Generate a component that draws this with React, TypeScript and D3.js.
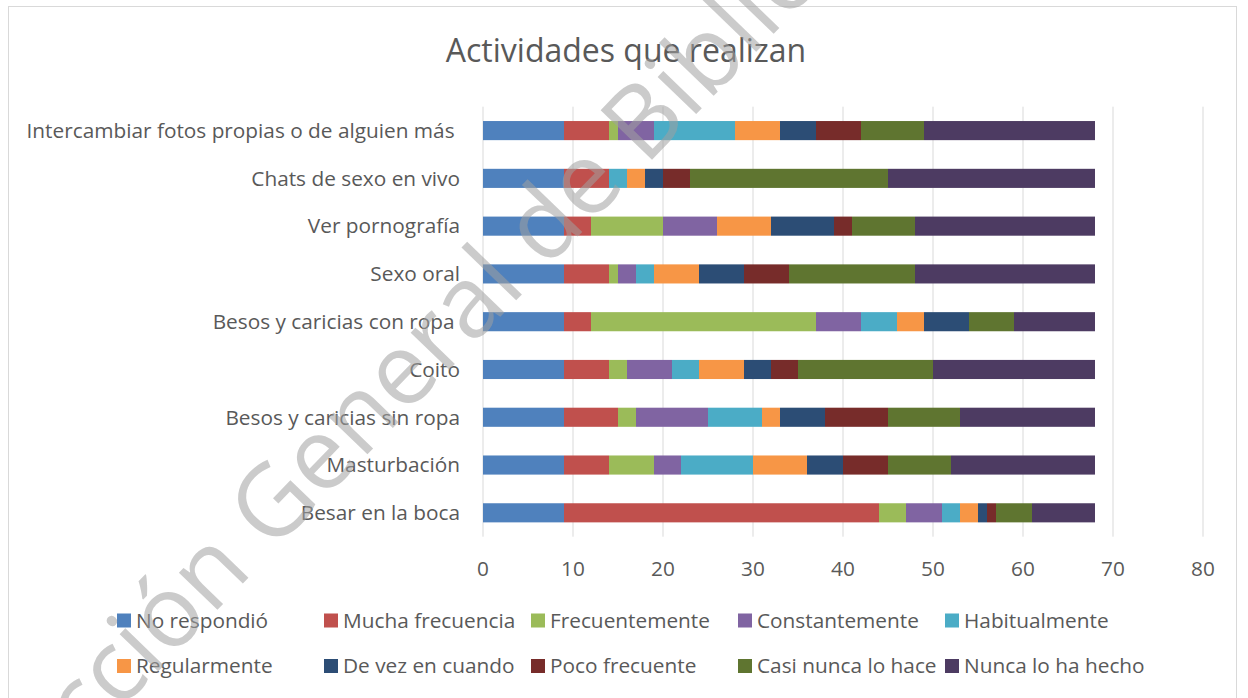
import React from 'react'
import * as d3 from 'd3'

const categories = [
  'Intercambiar fotos propias o de alguien más ',
  'Chats de sexo en vivo',
  'Ver pornografía',
  'Sexo oral',
  'Besos y caricias con ropa ',
  'Coito',
  'Besos y caricias sin ropa',
  'Masturbación',
  'Besar en la boca',
]

const seriesNames = [
  'No respondió',
  'Mucha frecuencia',
  'Frecuentemente',
  'Constantemente',
  'Habitualmente',
  'Regularmente',
  'De vez en cuando',
  'Poco frecuente',
  'Casi nunca lo hace',
  'Nunca lo ha hecho',
]

// one array per answer, same order as categories
const noRespondio = [9, 9, 9, 9, 9, 9, 9, 9, 9]
const muchaFrecuencia = [5, 5, 3, 5, 3, 5, 6, 5, 35]
const frecuentemente = [1, 0, 8, 1, 25, 2, 2, 5, 3]
const constantemente = [4, 0, 6, 2, 5, 5, 8, 3, 4]
const habitualmente = [9, 2, 0, 2, 4, 3, 6, 8, 2]
const regularmente = [5, 2, 6, 5, 3, 5, 2, 6, 2]
const deVezEnCuando = [4, 2, 7, 5, 5, 3, 5, 4, 1]
const pocoFrecuente = [5, 3, 2, 5, 0, 3, 7, 5, 1]
const casiNunca = [7, 22, 7, 14, 5, 15, 8, 7, 4]
const nuncaLoHaHecho = [19, 23, 20, 20, 9, 18, 15, 16, 7]

const seriesValues = [
  noRespondio, muchaFrecuencia, frecuentemente, constantemente, habitualmente,
  regularmente, deVezEnCuando, pocoFrecuente, casiNunca, nuncaLoHaHecho,
]

const colors = [
  '#4F81BD', '#C0504D', '#9BBB59', '#8064A2', '#4BACC6',
  '#F79646', '#2C4D75', '#772C2A', '#5F7530', '#4D3B62',
]

const W = 1248
const H = 698
const font = '"Open Sans", Lato, sans-serif'
const textColor = '#595959'

export default function App() {
  const rows = categories.map((c, i) => {
    const row: any = { cat: c }
    seriesNames.forEach((s, j) => { row[s] = seriesValues[j][i] })
    return row
  })
  const stacked = d3.stack().keys(seriesNames)(rows)

  const x = d3.scaleLinear().domain([0, 80]).range([483, 1203])
  const y = d3.scaleBand().domain(categories).range([106.7, 536.7]).paddingInner(0.6).paddingOuter(0.3)
  const color = d3.scaleOrdinal<string, string>().domain(seriesNames).range(colors)

  const legendX = (i: number) => 117 + (i % 5) * 207
  const legendY = (i: number) => (i < 5 ? 620.5 : 666)

  return (
    <svg width={W} height={H} style={{ position: 'absolute', left: 0, top: 0, display: 'block', background: '#fff' }}>
      <rect x={8.5} y={6.5} width={1228} height={720} fill="#fff" stroke="#d9d9d9" />
      <text x={626} y={62} textAnchor="middle" fontFamily={font} fontSize={32} fill={textColor}>
        Actividades que realizan
      </text>

      {x.ticks(8).map(t => (
        <g key={t}>
          <line x1={x(t)} x2={x(t)} y1={106.7} y2={536.7} stroke="#d9d9d9" strokeWidth={1} />
          <text x={x(t)} y={576} textAnchor="middle" fontFamily={font} fontSize={20.8} fill={textColor}>{t}</text>
        </g>
      ))}

      {stacked.map(layer => (
        <g key={layer.key} fill={color(layer.key)}>
          {layer.map((d, i) => (
            <rect key={i} x={x(d[0])} y={y(categories[i])} width={x(d[1]) - x(d[0])} height={y.bandwidth()} />
          ))}
        </g>
      ))}

      {categories.map(c => (
        <text key={c} x={460} y={(y(c) || 0) + y.bandwidth() / 2} dy="0.35em" textAnchor="end"
          fontFamily={font} fontSize={20.8} fill={textColor} style={{ whiteSpace: 'pre' }}>
          {c}
        </text>
      ))}

      {seriesNames.map((s, i) => (
        <g key={s}>
          <rect x={legendX(i)} y={legendY(i) - 7} width={14} height={14} fill={color(s)} />
          <text x={legendX(i) + 19} y={legendY(i)} dy="0.35em" fontFamily={font} fontSize={20.8} fill={textColor}>{s}</text>
        </g>
      ))}

      <text x={445} y={318} textAnchor="middle" dominantBaseline="central" transform="rotate(-46 445 318)"
        fontFamily={font} fontSize={100} fill="#a0a0a0" fillOpacity={0.55}>
        Dirección General de Bibliotecas
      </text>
    </svg>
  )
}
